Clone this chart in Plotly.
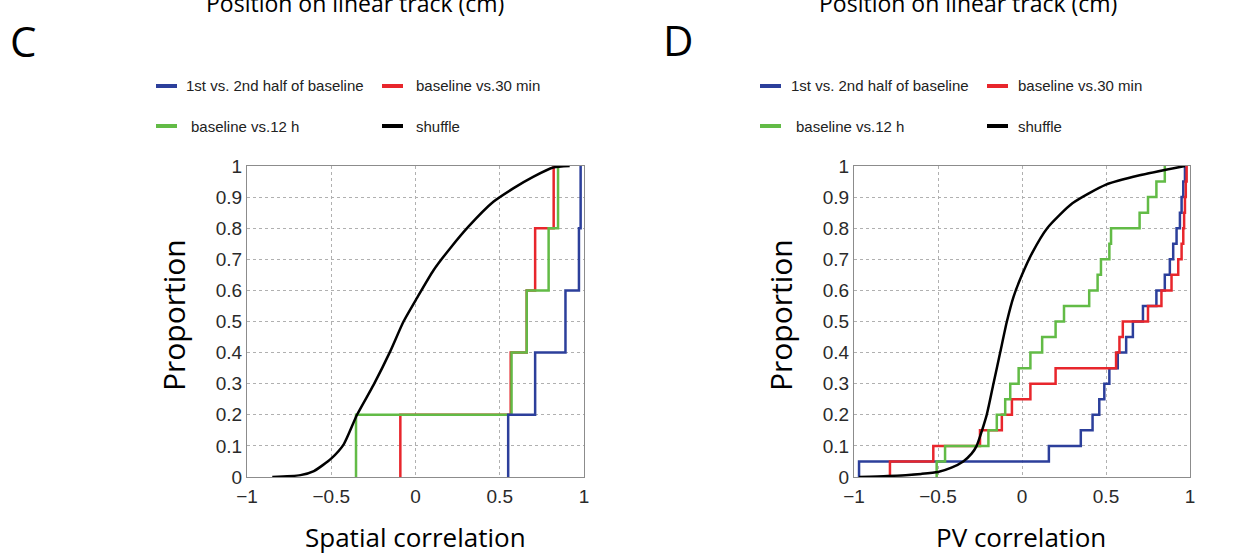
import plotly.graph_objects as go

# ---------------- data ----------------
# Panel C: spatial correlation, 5 values per comparison
c_blue = [0.55, 0.71, 0.89, 0.97, 0.98]
c_red = [-0.09, 0.565, 0.66, 0.71, 0.82]
c_green = [-0.353, 0.57, 0.66, 0.79, 0.846]
c_shuf_x = [-0.85, -0.683, -0.603, -0.499, -0.426, -0.347, -0.248, -0.15, -0.071,
            0.008, 0.107, 0.205, 0.314, 0.462, 0.58, 0.698, 0.817, 0.915]
c_shuf_y = [0, 0.006, 0.019, 0.06, 0.105, 0.20, 0.297, 0.404, 0.50,
            0.575, 0.665, 0.735, 0.805, 0.885, 0.928, 0.965, 0.995, 1.0]

# Panel D: PV correlation, 20 values per comparison
d_blue = [-0.97, 0.16, 0.35, 0.42, 0.46, 0.49, 0.52, 0.57, 0.62, 0.66,
          0.72, 0.8, 0.85, 0.88, 0.9, 0.92, 0.94, 0.95, 0.96, 0.97]
d_red = [-0.786, -0.528, -0.25, -0.12, -0.06, 0.05, 0.2, 0.56, 0.58, 0.6,
         0.75, 0.83, 0.89, 0.93, 0.95, 0.96, 0.965, 0.97, 0.975, 0.98]
d_green = [-0.508, -0.458, -0.2, -0.15, -0.1, -0.07, -0.02, 0.05, 0.12, 0.2,
           0.25, 0.4, 0.45, 0.47, 0.52, 0.53, 0.7, 0.75, 0.8, 0.85]
d_shuf_x = [-0.97, -0.8, -0.6, -0.5, -0.42, -0.35, -0.3, -0.27, -0.21, -0.17,
            -0.13, -0.09, -0.05, 0.0, 0.06, 0.15, 0.3, 0.5, 0.7, 0.97]
d_shuf_y = [0, 0.003, 0.01, 0.016, 0.03, 0.05, 0.075, 0.1, 0.2, 0.3,
            0.4, 0.5, 0.58, 0.65, 0.72, 0.8, 0.88, 0.94, 0.97, 1.0]

legend_labels = ["1st vs. 2nd half of baseline", "baseline vs.30 min",
                 "baseline vs.12 h", "shuffle"]
x_ticks = [-1, -0.5, 0, 0.5, 1]
x_ticktext = ["\u22121", "\u22120.5", "0", "0.5", "1"]
y_ticks = [0, 0.1, 0.2, 0.3, 0.4, 0.5, 0.6, 0.7, 0.8, 0.9, 1]
y_ticktext = ["0", "0.1", "0.2", "0.3", "0.4", "0.5", "0.6", "0.7", "0.8", "0.9", "1"]

BLUE = "#2c3f9b"
RED = "#e8262c"
GREEN = "#62bb46"
BLACK = "#000000"

W, H = 1243, 554


def ecdf(vals):
    v = sorted(vals)
    n = len(v)
    xs = [v[0]] + v
    ys = [0.0] + [(i + 1) / n for i in range(n)]
    return xs, ys


def px(x):
    return x / W


def py(y):
    return 1 - y / H


fig = go.Figure()

for (vals, col, xa, ya) in [
    (c_red, RED, "x", "y"), (c_green, GREEN, "x", "y"), (c_blue, BLUE, "x", "y"),
    (d_blue, BLUE, "x2", "y2"), (d_red, RED, "x2", "y2"), (d_green, GREEN, "x2", "y2"),
]:
    xs, ys = ecdf(vals)
    fig.add_trace(go.Scatter(x=xs, y=ys, mode="lines", line=dict(color=col, width=2.5, shape="hv"),
                             xaxis=xa, yaxis=ya, showlegend=False, hoverinfo="skip"))

fig.add_trace(go.Scatter(x=c_shuf_x, y=c_shuf_y, mode="lines",
                         line=dict(color=BLACK, width=2.5, shape="spline", smoothing=0.6),
                         xaxis="x", yaxis="y", showlegend=False, hoverinfo="skip"))
fig.add_trace(go.Scatter(x=d_shuf_x, y=d_shuf_y, mode="lines",
                         line=dict(color=BLACK, width=2.5, shape="spline", smoothing=0.6),
                         xaxis="x2", yaxis="y2", showlegend=False, hoverinfo="skip"))

tickfont = dict(family="Liberation Sans, Arial, sans-serif", size=19, color="#2a2a2a")
grid = dict(showgrid=True, gridcolor="#b0b0b0", griddash="dot", gridwidth=1,
            zeroline=False, showline=True, linecolor="#8c8c8c", linewidth=1, mirror=True,
            ticks="", tickfont=tickfont, fixedrange=True, automargin=False)
axis_common = dict(range=[-1, 1], tickvals=x_ticks, ticktext=x_ticktext, ticklabelstandoff=2, **grid)
yaxis_common = dict(range=[0, 1], tickvals=y_ticks, ticktext=y_ticktext, **grid)

y_dom = [py(477), py(166)]
fig.update_layout(
    template="none",
    width=W, height=H,
    margin=dict(l=0, r=0, t=0, b=0, pad=0, autoexpand=False),
    paper_bgcolor="white", plot_bgcolor="white",
    xaxis=dict(domain=[px(247), px(584)], anchor="y", **axis_common),
    yaxis=dict(domain=y_dom, anchor="x", **yaxis_common),
    xaxis2=dict(domain=[px(854), px(1190)], anchor="y2", **axis_common),
    yaxis2=dict(domain=y_dom, anchor="x2", **yaxis_common),
    showlegend=False,
)

big = "Open Sans, Noto Sans, sans-serif"
ann = []
# cut-off titles at top (only their lower part is inside the picture, as in the reference)
for cx in (355, 968):
    ann.append(dict(x=px(cx), y=py(3), text="Position on linear track (cm)", showarrow=False,
                    xref="paper", yref="paper", xanchor="center", yanchor="middle",
                    font=dict(family=big, size=23, color="black")))
# panel letters
ann.append(dict(x=px(23), y=py(40), text="C", showarrow=False, xref="paper", yref="paper",
                xanchor="center", yanchor="middle", font=dict(family=big, size=42, color="black")))
ann.append(dict(x=px(678), y=py(39), text="D", showarrow=False, xref="paper", yref="paper",
                xanchor="center", yanchor="middle", font=dict(family=big, size=42, color="black")))
# axis titles
for cx in (173, 780):
    ann.append(dict(x=px(cx), y=py(315), text="Proportion", showarrow=False, xref="paper", yref="paper",
                    textangle=-90, xanchor="center", yanchor="middle",
                    font=dict(family=big, size=30, color="black")))
ann.append(dict(x=px(415), y=py(537), text="Spatial correlation", showarrow=False, xref="paper", yref="paper",
                xanchor="center", yanchor="middle", font=dict(family=big, size=26, color="black")))
ann.append(dict(x=px(1021), y=py(537), text="PV correlation", showarrow=False, xref="paper", yref="paper",
                xanchor="center", yanchor="middle", font=dict(family=big, size=26, color="black")))

# legends (line swatch + label)
shapes = []
legfont = dict(family="Liberation Sans, Arial, sans-serif", size=15, color="#222222")
leg_cols = [BLUE, RED, GREEN, BLACK]
for (l1, t1, l2, t2) in [(156, 184, 382, 414), (760, 789, 987, 1016)]:
    positions = [(l1, t1, 86), (l2, t2, 86), (l1, t1 + 5, 126), (l2, t2, 126)]
    for (lx, tx, yy), col, lab in zip(positions, leg_cols, legend_labels):
        shapes.append(dict(type="line", xref="paper", yref="paper", x0=px(lx), x1=px(lx + 21),
                           y0=py(yy), y1=py(yy), line=dict(color=col, width=4)))
        ann.append(dict(x=px(tx), y=py(yy), text=lab, showarrow=False, xref="paper", yref="paper",
                        xanchor="left", yanchor="middle", font=legfont))

fig.update_layout(annotations=ann, shapes=shapes)
fig.write_html("out.html")
